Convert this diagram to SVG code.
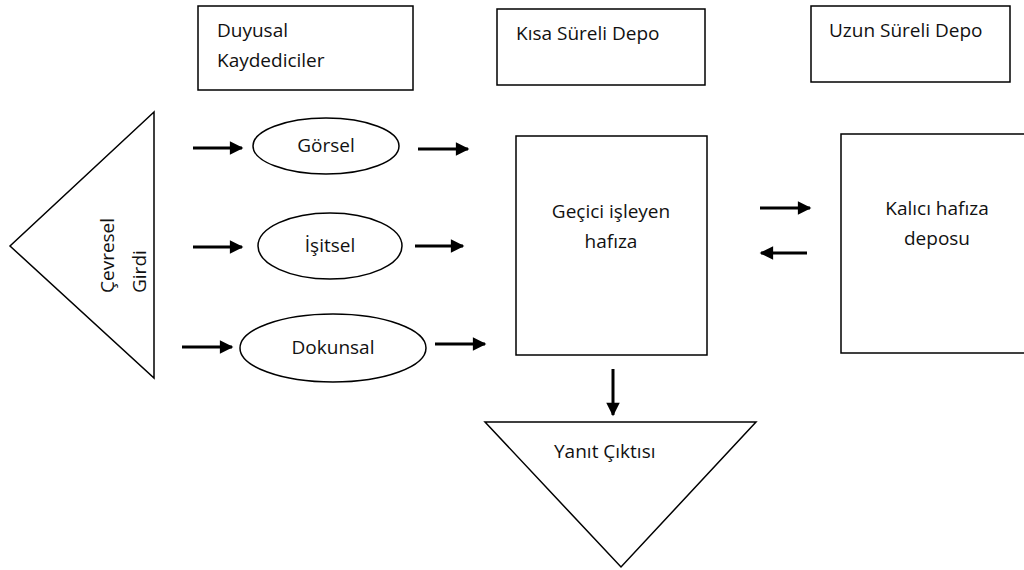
<svg xmlns="http://www.w3.org/2000/svg" width="1024" height="570" viewBox="0 0 1024 570">
  <style>
    .shape { fill: #ffffff; stroke: #000000; stroke-width: 1.5; }
    .label { font-family: "Open Sans", "Liberation Sans", sans-serif; font-size: 19px; fill: #111111; }
    .mid { text-anchor: middle; }
    .arrow { stroke: #000000; stroke-width: 3; fill: none; marker-end: url(#head); }
  </style>
  <defs>
    <marker id="head" viewBox="0 0 10 10" refX="9" refY="5" markerWidth="5" markerHeight="4.5" markerUnits="strokeWidth" orient="auto">
      <path d="M0,0 L10,5 L0,10 z" fill="#000000"/>
    </marker>
  </defs>

  <rect width="1024" height="570" fill="#ffffff"/>

  <!-- column headers -->
  <g id="header-sensory">
    <rect class="shape" x="198" y="6" width="215" height="84"/>
    <text class="label" x="217" y="37">Duyusal</text>
    <text class="label" x="217" y="67">Kaydediciler</text>
  </g>
  <g id="header-short">
    <rect class="shape" x="497" y="9" width="208" height="76"/>
    <text class="label" x="516" y="40">Kısa Süreli Depo</text>
  </g>
  <g id="header-long">
    <rect class="shape" x="811" y="6" width="199" height="76"/>
    <text class="label" x="829" y="37">Uzun Süreli Depo</text>
  </g>

  <!-- environmental input -->
  <g id="input">
    <polygon class="shape" points="154,112 10,246 154,378"/>
    <text class="label" transform="translate(114,293) rotate(-90)">Çevresel</text>
    <text class="label" transform="translate(146,293) rotate(-90)">Girdi</text>
  </g>

  <!-- sensory registers -->
  <g id="visual">
    <ellipse class="shape" cx="326" cy="146" rx="73" ry="28"/>
    <text class="label mid" x="326" y="152">Görsel</text>
  </g>
  <g id="auditory">
    <ellipse class="shape" cx="330" cy="246" rx="72" ry="33"/>
    <text class="label mid" x="330" y="252">İşitsel</text>
  </g>
  <g id="tactile">
    <ellipse class="shape" cx="333" cy="348" rx="93" ry="34"/>
    <text class="label mid" x="333" y="354">Dokunsal</text>
  </g>

  <!-- working memory -->
  <g id="working-memory">
    <rect class="shape" x="516" y="136" width="191" height="219"/>
    <text class="label mid" x="611" y="218">Geçici işleyen</text>
    <text class="label mid" x="611" y="248">hafıza</text>
  </g>

  <!-- long-term store -->
  <g id="long-term-store">
    <rect class="shape" x="841" y="134" width="200" height="219"/>
    <text class="label mid" x="937" y="215">Kalıcı hafıza</text>
    <text class="label mid" x="937" y="245">deposu</text>
  </g>

  <!-- response output -->
  <g id="output">
    <polygon class="shape" points="485,422 756,422 621,567"/>
    <text class="label" x="554" y="458">Yanıt Çıktısı</text>
  </g>

  <!-- connectors -->
  <g id="connectors">
    <line class="arrow" x1="193" y1="148" x2="242" y2="148"/>
    <line class="arrow" x1="193" y1="247" x2="242" y2="247"/>
    <line class="arrow" x1="182" y1="347" x2="232" y2="347"/>
    <line class="arrow" x1="418" y1="149" x2="468" y2="149"/>
    <line class="arrow" x1="415" y1="246" x2="463" y2="246"/>
    <line class="arrow" x1="435" y1="344" x2="485" y2="344"/>
    <line class="arrow" x1="760" y1="208" x2="810" y2="208"/>
    <line class="arrow" x1="807" y1="253" x2="761" y2="253"/>
    <line class="arrow" x1="613" y1="369" x2="613" y2="415"/>
  </g>
</svg>
